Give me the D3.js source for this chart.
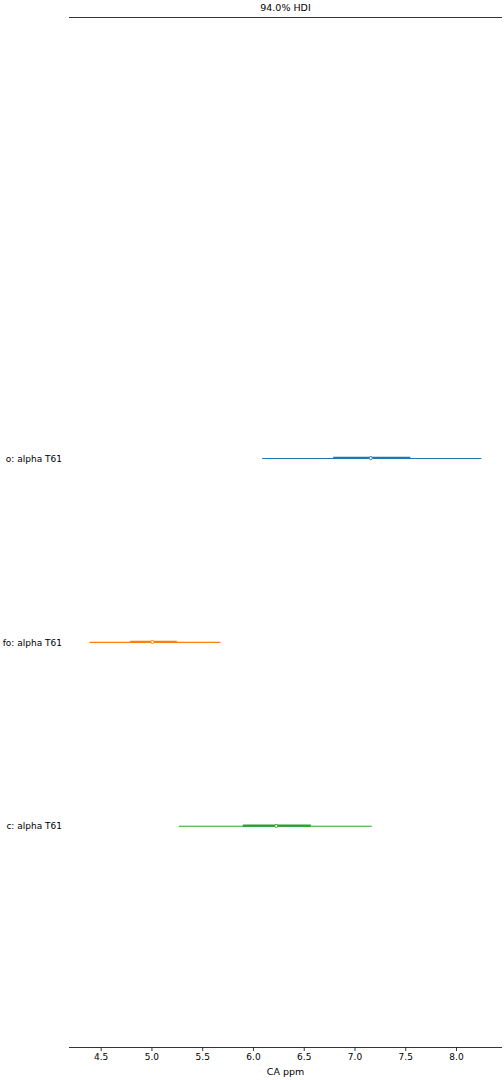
<!DOCTYPE html>
<html>
<head>
<meta charset="utf-8">
<script src="https://cdn.jsdelivr.net/npm/d3@7"></script>
<style>
  body { margin: 0; background: #fff; }
  text { font-family: "DejaVu Sans", sans-serif; fill: #000; }
</style>
</head>
<body>
<svg id="chart" width="504" height="1080"></svg>
<script>
// ---- data ----
const labels = ["o: alpha T61", "fo: alpha T61", "c: alpha T61"];
const colors = ["#1f77b4", "#ff7f0e", "#2ca02c"];
const rowPos = [2, 1, 0];
const hdiLow = [6.09, 4.39, 5.27];
const hdiHigh = [8.25, 5.68, 7.17];
const iqrLow = [6.79, 4.79, 5.90];
const iqrHigh = [7.55, 5.25, 6.57];
const medians = [7.16, 5.01, 6.23];
const xTicks = [4.5, 5.0, 5.5, 6.0, 6.5, 7.0, 7.5, 8.0];
const title = "94.0% HDI";
const xLabel = "CA ppm";

(function () {
// ---- layout ----
const mLeft = 69, mRight = 502, mTop = 17, mBottom = 1047;
const svg = d3.select("#chart");

const x = d3.scaleLinear().domain([4.188, 8.453]).range([mLeft, mRight]);
const y = d3.scaleLinear().domain([-1.2, 4.4]).range([mBottom, mTop]);

// top spine
svg.append("line")
  .attr("x1", mLeft).attr("x2", mRight)
  .attr("y1", mTop + 0.5).attr("y2", mTop + 0.5)
  .attr("stroke", "#000").attr("stroke-width", 0.8);

// title
svg.append("text")
  .attr("x", (mLeft + mRight) / 2).attr("y", 11)
  .attr("text-anchor", "middle")
  .style("font-size", "9.5px")
  .text(title);

// x axis
const xAxis = d3.axisBottom(x).tickValues(xTicks).tickFormat(d3.format(".1f")).tickSize(3.5).tickPadding(3);
const gx = svg.append("g").attr("transform", `translate(0,${mBottom + 0.5})`).call(xAxis);
gx.select(".domain").attr("d", `M${mLeft},0H${mRight}`).attr("stroke", "#000").attr("stroke-width", 0.8);
gx.selectAll(".tick line").attr("stroke", "#000").attr("stroke-width", 0.8);
gx.selectAll(".tick text").style("font-size", "9px").style("font-family", "DejaVu Sans, sans-serif").attr("fill", "#000");

svg.append("text")
  .attr("x", (mLeft + mRight) / 2).attr("y", 1075)
  .attr("text-anchor", "middle")
  .style("font-size", "9.5px")
  .text(xLabel);

// y labels
svg.selectAll("text.ylab").data(labels).enter().append("text")
  .attr("class", "ylab")
  .attr("x", 62)
  .attr("y", (d, i) => y(rowPos[i]))
  .attr("dy", "0.35em")
  .attr("text-anchor", "end")
  .style("font-size", "9px")
  .text(d => d);

const rows = labels.map((l, i) => ({ i }));

// HDI lines
svg.selectAll("line.hdi").data(rows).enter().append("line")
  .attr("class", "hdi")
  .attr("x1", d => x(hdiLow[d.i])).attr("x2", d => x(hdiHigh[d.i]))
  .attr("y1", d => y(rowPos[d.i])).attr("y2", d => y(rowPos[d.i]))
  .attr("stroke", d => colors[d.i]).attr("stroke-width", 1.1);

// interquartile lines
svg.selectAll("line.iqr").data(rows).enter().append("line")
  .attr("class", "iqr")
  .attr("x1", d => x(iqrLow[d.i])).attr("x2", d => x(iqrHigh[d.i]))
  .attr("y1", d => y(rowPos[d.i]) - 0.6).attr("y2", d => y(rowPos[d.i]) - 0.6)
  .attr("stroke", d => colors[d.i]).attr("stroke-width", 2.2);

// medians
svg.selectAll("circle.med").data(rows).enter().append("circle")
  .attr("class", "med")
  .attr("cx", d => x(medians[d.i]))
  .attr("cy", d => y(rowPos[d.i]) - 0.3)
  .attr("r", 1.6)
  .attr("fill", "#fff")
  .attr("stroke", d => colors[d.i]).attr("stroke-width", 0.9);
})();
</script>
</body>
</html>
